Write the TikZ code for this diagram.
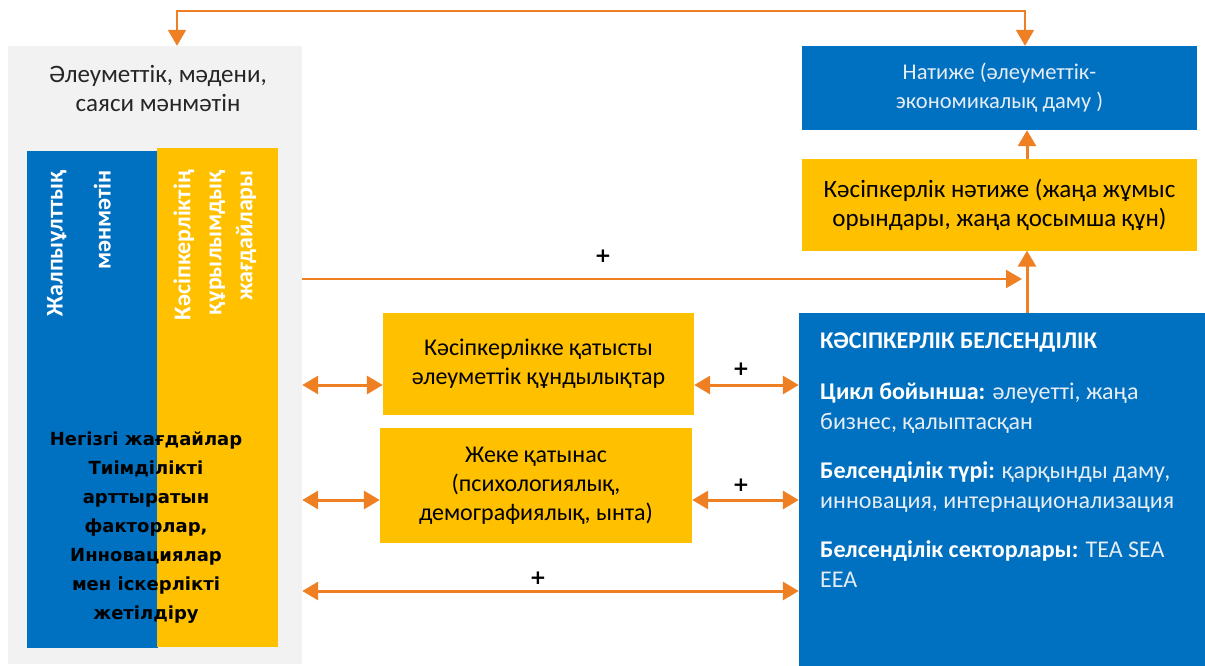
\documentclass[tikz,border=0pt]{standalone}
\usepackage{fontspec}
\setmainfont{Carlito}
\newfontfamily\dejavu{DejaVu Sans}
\usepackage{xcolor}
\definecolor{cBlue}{HTML}{0070C0}
\definecolor{cYellow}{HTML}{FFC000}
\definecolor{cOrange}{HTML}{EE7F22}
\definecolor{cPanel}{HTML}{F2F2F2}
\definecolor{cPale}{HTML}{E6EDF5}
\usepackage{tikz}
\usetikzlibrary{arrows.meta,calc}
\tikzset{
  node-box/.style={inner sep=0pt,align=center,font=\fontsize{24}{29}\selectfont},
  node-blue/.style={node-box,fill=cBlue,text=cPale},
  node-yellow/.style={node-box,fill=cYellow,text=black},
  node-panel/.style={inner sep=0pt,fill=cPanel},
  node-vert/.style={rotate=90,anchor=east,align=right,inner sep=0pt,text=white,
    font=\bfseries\fontsize{24}{31}\selectfont},
  arrow/.style={-{Triangle[length=16pt,width=18pt]},line width=3pt,draw=cOrange},
  arrow-both/.style={{Triangle[length=16pt,width=18pt]}-{Triangle[length=16pt,width=18pt]},
    line width=3pt,draw=cOrange},
  plus/.style={font=\dejavu\bfseries\fontsize{20}{20}\selectfont},
}

\begin{document}
\begin{tikzpicture}[x=1pt,y=-1pt]
  \useasboundingbox (0,0) rectangle (1205,666);

  % left context panel
  \node[node-panel,minimum width=294pt,minimum height=618pt] (ctx) at (155,355) {};
  \node[node-box,text=black!85,font=\fontsize{25}{29}\selectfont] (ctxlabel) at (158,88)
    {Әлеуметтік, мәдени,\\саяси мәнмәтін};
  \node[node-panel,fill=cBlue,minimum width=131pt,minimum height=497pt] (natcol) at (92.5,399.5) {};
  \node[node-panel,fill=cYellow,minimum width=121pt,minimum height=499pt] (strcol) at (217.5,397.5) {};
  \node[node-vert,font=\bfseries\fontsize{24}{48}\selectfont] (natlabel) at (79,170)
    {Жалпыұлттық\\мәнмәтін};
  \node[node-vert] (strlabel) at (215,170)
    {Кәсіпкерліктің\\құрылымдық\\жағдайлары};
  \node[align=center,inner sep=0pt,font=\dejavu\bfseries\fontsize{18}{29}\selectfont] (basics) at (146,528)
    {Негізгі жағдайлар\\Тиімділікті\\арттыратын\\факторлар,\\Инновациялар\\мен іскерлікті\\жетілдіру};

  % right column
  \node[node-blue,minimum width=395pt,minimum height=84pt,font=\fontsize{22.5}{29}\selectfont] (nat) at (999.5,88)
    {Натиже (әлеуметтік-\\экономикалық даму )};
  \node[node-yellow,minimum width=395pt,minimum height=91pt,font=\fontsize{25}{29}\selectfont] (kres) at (999.5,205)
    {Кәсіпкерлік нәтиже (жаңа жұмыс\\орындары, жаңа қосымша құн)};
  \node[node-blue,minimum width=406pt,minimum height=353pt] (act) at (1002,489.5) {};
  \node[anchor=north west,align=left,inner sep=0pt,text=cPale,
    font=\fontsize{24}{30}\selectfont] (actlabel) at (820,332)
    {\textbf{\color{white}КӘСІПКЕРЛІК БЕЛСЕНДІЛІК}\\[21pt]
     \textbf{\color{white}Цикл бойынша:} әлеуетті, жаңа\\
     бизнес, қалыптасқан\\[19pt]
     \textbf{\color{white}Белсенділік түрі:} қарқынды даму,\\
     инновация, интернационализация\\[19pt]
     \textbf{\color{white}Белсенділік секторлары:} TEA SEA\\
     EEA};

  % middle factors
  \node[node-yellow,minimum width=311pt,minimum height=102pt] (val) at (538.5,364)
    {Кәсіпкерлікке қатысты\\әлеуметтік құндылықтар};
  \node[node-yellow,minimum width=312pt,minimum height=115pt] (pers) at (536,485.5)
    {Жеке қатынас\\(психологиялық,\\демографиялық, ынта)};

  % rows and joints
  \coordinate (riser) at (1027,0);
  \coordinate (row0) at (0,279);
  \coordinate (row1) at (0,385);
  \coordinate (row2) at (0,500);
  \coordinate (row3) at (0,591);
  \coordinate (join) at (1022,279);

  % connectors
  \draw[arrow-both,line width=2pt] ($(ctx.north)+(22,0)$) -- ++(0,-35) -| ($(nat.north)+(25.5,0)$);
  \draw[arrow] (kres.north -| riser) -- (nat.south -| riser);
  \draw[arrow] (act.north -| riser) -- (kres.south -| riser);
  \draw[arrow,line width=2pt] (ctx.east |- row0) -- (join);
  \draw[arrow-both] (ctx.east |- row1) -- (val.west |- row1);
  \draw[arrow-both] (val.east |- row1) -- (act.west |- row1);
  \draw[arrow-both] (ctx.east |- row2) -- (pers.west |- row2);
  \draw[arrow-both] (pers.east |- row2) -- (act.west |- row2);
  \draw[arrow-both] (ctx.east |- row3) -- (act.west |- row3);

  \node[plus] (plus0) at (603,256) {+};
  \node[plus] (plus1) at (741,369) {+};
  \node[plus] (plus2) at (741,485) {+};
  \node[plus] (plus3) at (538,578) {+};
\end{tikzpicture}
\end{document}
